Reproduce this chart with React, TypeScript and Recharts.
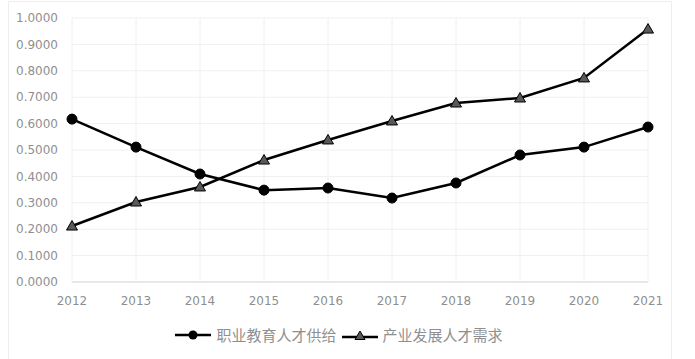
import { LineChart, Line, XAxis, YAxis, CartesianGrid, Legend } from 'recharts';

const years = ['2012', '2013', '2014', '2015', '2016', '2017', '2018', '2019', '2020', '2021'];
const supply = [0.617, 0.511, 0.409, 0.348, 0.356, 0.318, 0.375, 0.481, 0.511, 0.587];
const demand = [0.212, 0.303, 0.36, 0.462, 0.538, 0.61, 0.678, 0.697, 0.773, 0.958];
const yTicks = [0, 0.1, 0.2, 0.3, 0.4, 0.5, 0.6, 0.7, 0.8, 0.9, 1.0];

const supplyName = '职业教育人才供给';
const demandName = '产业发展人才需求';

const data = years.map((year, i) => ({ year, supply: supply[i], demand: demand[i] }));

const font = '"DejaVu Sans", sans-serif';
const labelColor = '#8f8f8f';

const Triangle = (props: any) => {
  const { cx, cy } = props;
  if (cx == null || cy == null) return null;
  return (
    <path
      d={`M${cx},${cy - 5.5} L${cx + 5.5},${cy + 4} L${cx - 5.5},${cy + 4} Z`}
      fill="#595959"
      stroke="#000"
      strokeWidth={1}
    />
  );
};

const renderLegend = () => (
  <div
    style={{
      display: 'flex',
      justifyContent: 'center',
      alignItems: 'center',
      fontFamily: '"Noto Sans CJK SC", sans-serif',
      fontSize: 15,
      color: labelColor,
      marginLeft: 18,
      paddingTop: 12,
    }}
  >
    <svg width={36} height={12}>
      <line x1={0} y1={6} x2={36} y2={6} stroke="#000" strokeWidth={2.5} />
      <circle cx={18} cy={6} r={4.5} fill="#000" />
    </svg>
    <span style={{ marginLeft: 5, marginRight: 5 }}>{supplyName}</span>
    <svg width={36} height={12}>
      <line x1={0} y1={8} x2={36} y2={8} stroke="#000" strokeWidth={2.5} />
      <path d="M18,2 L23,10.5 L13,10.5 Z" fill="#595959" stroke="#000" strokeWidth={1} />
    </svg>
    <span style={{ marginLeft: 5 }}>{demandName}</span>
  </div>
);

export default function App() {
  return (
    <div style={{ position: 'absolute', left: 0, top: 0, width: 695, height: 359, background: '#fff' }}>
      <div
        style={{
          position: 'absolute',
          left: 8,
          top: 1,
          width: 664,
          height: 370,
          border: '1px solid #eeeeee',
          boxSizing: 'border-box',
        }}
      />
      <LineChart
        width={695}
        height={359}
        data={data}
        margin={{ top: 18, right: 47, left: 12, bottom: 10 }}
      >
        <CartesianGrid stroke="#f0f0f0" strokeWidth={1} />
        <XAxis
          dataKey="year"
          axisLine={{ stroke: '#d9d9d9' }}
          tickLine={false}
          tick={{ fill: labelColor, fontSize: 12, fontFamily: font }}
          height={30}
          tickMargin={8}
        />
        <YAxis
          domain={[0, 1]}
          ticks={yTicks}
          tickFormatter={(v: number) => v.toFixed(4)}
          axisLine={false}
          tickLine={false}
          tick={{ fill: labelColor, fontSize: 12, fontFamily: font }}
          width={60}
          tickMargin={8}
        />
        <Legend verticalAlign="bottom" height={37} content={renderLegend} />
        <Line
          dataKey="supply"
          name={supplyName}
          stroke="#000"
          strokeWidth={2.5}
          dot={{ r: 5, fill: '#000', stroke: '#000', strokeWidth: 1 }}
          isAnimationActive={false}
        />
        <Line
          dataKey="demand"
          name={demandName}
          stroke="#000"
          strokeWidth={2.5}
          dot={<Triangle />}
          isAnimationActive={false}
        />
      </LineChart>
    </div>
  );
}
